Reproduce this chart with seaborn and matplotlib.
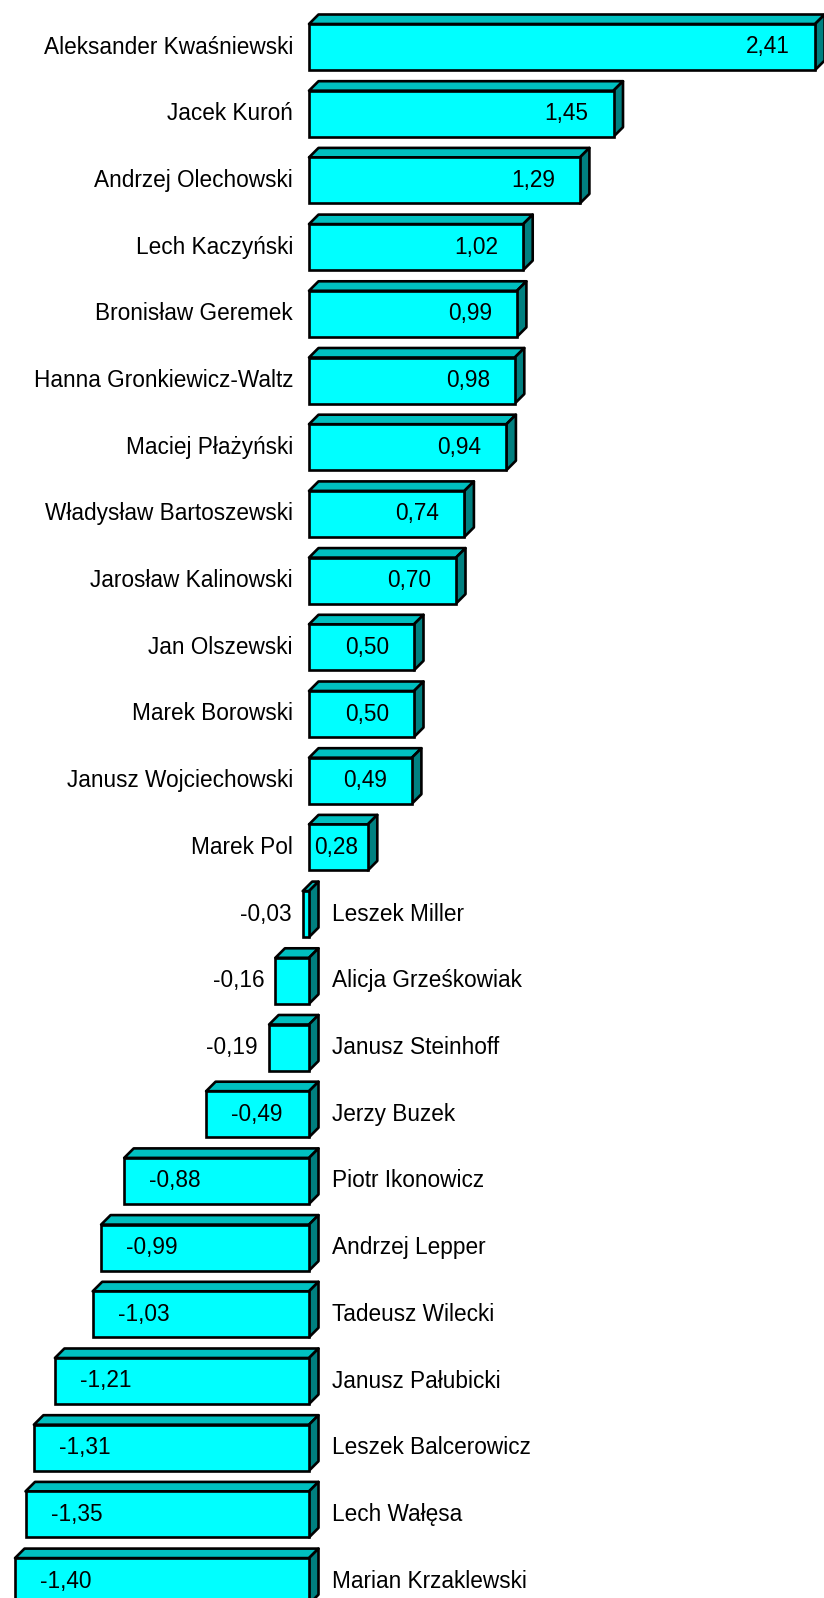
import matplotlib
matplotlib.use('Agg')
import matplotlib.pyplot as plt
import seaborn as sns
from matplotlib.patches import Polygon

# Data
names = ['Aleksander Kwaśniewski', 'Jacek Kuroń', 'Andrzej Olechowski', 'Lech Kaczyński',
         'Bronisław Geremek', 'Hanna Gronkiewicz-Waltz', 'Maciej Płażyński',
         'Władysław Bartoszewski', 'Jarosław Kalinowski', 'Jan Olszewski', 'Marek Borowski',
         'Janusz Wojciechowski', 'Marek Pol', 'Leszek Miller', 'Alicja Grześkowiak',
         'Janusz Steinhoff', 'Jerzy Buzek', 'Piotr Ikonowicz', 'Andrzej Lepper',
         'Tadeusz Wilecki', 'Janusz Pałubicki', 'Leszek Balcerowicz', 'Lech Wałęsa',
         'Marian Krzaklewski']
values = [2.41, 1.45, 1.29, 1.02, 0.99, 0.98, 0.94, 0.74, 0.70, 0.50, 0.50, 0.49, 0.28,
          -0.03, -0.16, -0.19, -0.49, -0.88, -0.99, -1.03, -1.21, -1.31, -1.35, -1.40]

front_col = '#00FFFF'
top_col = '#00C0C0'
side_col = '#008080'

# pixel geometry
W, H = 824, 1598
x0_px = 309
px_per_unit = 210
row_px = 66.7
first_px = 47
depth_px = 9.5
fs = 16.3
lw = 1.9

sns.set_theme(style='white')
plt.rcParams['font.family'] = ['Liberation Sans', 'DejaVu Sans']
plt.rcParams['text.color'] = 'black'

fig = plt.figure(figsize=(W / 100, H / 100), dpi=100)
ax = fig.add_axes([0, 0, 1, 1])

sns.barplot(x=values, y=names, orient='h', color=front_col, saturation=1,
            width=46 / row_px, edgecolor='black', linewidth=lw, ax=ax, zorder=2)

ax.set_xlim(-x0_px / px_per_unit, (W - x0_px) / px_per_unit)
ax.set_ylim((H - first_px) / row_px, -first_px / row_px)
ax.axis('off')

dx = depth_px / px_per_unit
dy = depth_px / row_px
px = 1 / px_per_unit

for i, (p, v, name) in enumerate(zip(ax.patches, values, names)):
    bb = p.get_bbox()
    xl, xr = min(bb.x0, bb.x1), max(bb.x0, bb.x1)
    yt, yb = min(bb.y0, bb.y1), max(bb.y0, bb.y1)
    top = Polygon([(xl, yt), (xr, yt), (xr + dx, yt - dy), (xl + dx, yt - dy)],
                  closed=True, facecolor=top_col, edgecolor='black', linewidth=lw,
                  joinstyle='round', zorder=1.5)
    side = Polygon([(xr, yt), (xr + dx, yt - dy), (xr + dx, yb - dy), (xr, yb)],
                   closed=True, facecolor=side_col, edgecolor='black', linewidth=lw,
                   joinstyle='round', zorder=1.5)
    ax.add_patch(top)
    ax.add_patch(side)

    lab = f"{v:.2f}".replace('.', ',')
    if v >= 0:
        if v < 0.35:
            ax.text(5 * px, i, lab, ha='left', va='center', fontsize=fs, zorder=3)
        else:
            ax.text(v - 25 * px, i, lab, ha='right', va='center', fontsize=fs, zorder=3)
        ax.text(-16 * px, i, name, ha='right', va='center', fontsize=fs)
    else:
        if v > -0.3:
            ax.text(v - 11 * px, i, lab, ha='right', va='center', fontsize=fs, zorder=3)
        else:
            ax.text(v + 25 * px, i, lab, ha='left', va='center', fontsize=fs, zorder=3)
        ax.text(23 * px, i, name, ha='left', va='center', fontsize=fs)

fig.savefig('out.png', dpi=100, facecolor='white')
